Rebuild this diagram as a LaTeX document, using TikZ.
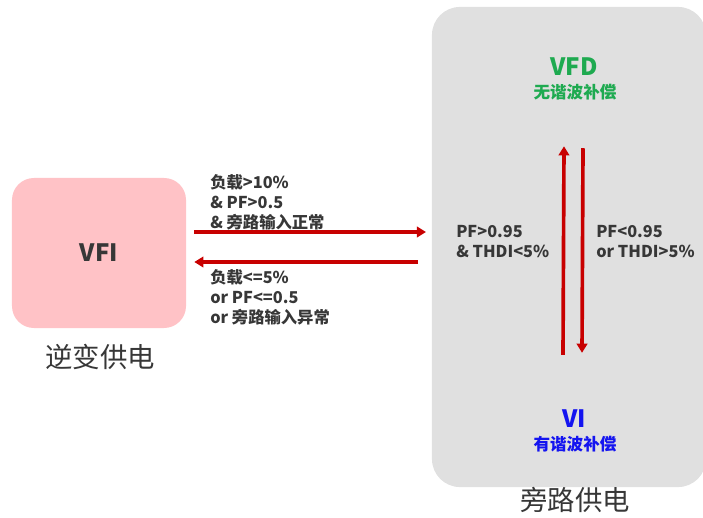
\documentclass[tikz,border=0pt]{standalone}
\usepackage{fontspec}
\setmainfont{Noto Sans CJK SC}
\usetikzlibrary{arrows.meta}
\definecolor{vfipink}{RGB}{255,194,198}
\definecolor{bypassgray}{RGB}{224,224,224}
\definecolor{flowred}{RGB}{200,0,0}
\definecolor{vfdgreen}{RGB}{30,170,80}
\definecolor{viblue}{RGB}{20,20,240}
\definecolor{textgray}{RGB}{55,55,55}
\tikzset{
  flow/.style={draw=flowred, line width=2.6pt, -{Triangle[length=6.5pt,width=7.5pt]}},
  cond/.style={anchor=west, align=left, inner sep=0pt, text=textgray,
    font=\fontsize{11.6}{14.2}\selectfont\bfseries},
  mode/.style={inner sep=0pt, font=\fontsize{17}{17}\selectfont\bfseries},
  modenote/.style={inner sep=0pt, font=\fontsize{11.8}{12}\selectfont\bfseries},
  caption/.style={inner sep=0pt, text=textgray, font=\fontsize{19.5}{20}\selectfont}
}
\begin{document}
\begin{tikzpicture}[x=0.025cm, y=-0.025cm]
\useasboundingbox (0,0) rectangle (703,518);
% two supply paths
\node[fill=vfipink, rounded corners=0.55cm, minimum width=4.35cm, minimum height=3.75cm] (vfi) at (99,253) {};
\node[fill=bypassgray, rounded corners=0.7cm, minimum width=6.85cm, minimum height=12cm] (bypass) at (569,247) {};
\node[mode, text=textgray] at (vfi) {VFI};
\node[caption] (vficap) at (100,357) {逆变供电};
\node[caption] (bypasscap) at (575,500) {旁路供电};
% modes on the bypass side
\node[mode, text=vfdgreen] (vfd) at (574,67) {VFD};
\node[modenote, text=vfdgreen] (vfdnote) at (575,92) {无谐波补偿};
\node[mode, text=viblue] (vi) at (574,419) {VI};
\node[modenote, text=viblue] (vinote) at (575,444) {有谐波补偿};
% switching conditions
\node[cond] (toby) at (210,202) {负载>10\%\\\& PF>0.5\\\& 旁路输入正常};
\node[cond] (tovfi) at (210,297) {负载<=5\%\\or PF<=0.5\\or 旁路输入异常};
\node[cond] (tovfd) at (456,242) {PF>0.95\\\& THDI<5\%};
\node[cond] (tovi) at (596,242) {PF<0.95\\or THDI>5\%};
\coordinate (byin) at (426,232);
\coordinate (byout) at (418,262);
\draw[flow] ([shift={(8,-21)}]vfi.east) -- (byin);
\draw[flow] (byout) -- ([shift={(8,9)}]vfi.east);
\draw[flow] ([shift={(-11,-55)}]vi.north) -- ([shift={(-11,46)}]vfdnote.south);
\draw[flow] ([shift={(8,48)}]vfdnote.south) -- ([shift={(8,-57)}]vi.north);
\end{tikzpicture}
\end{document}
